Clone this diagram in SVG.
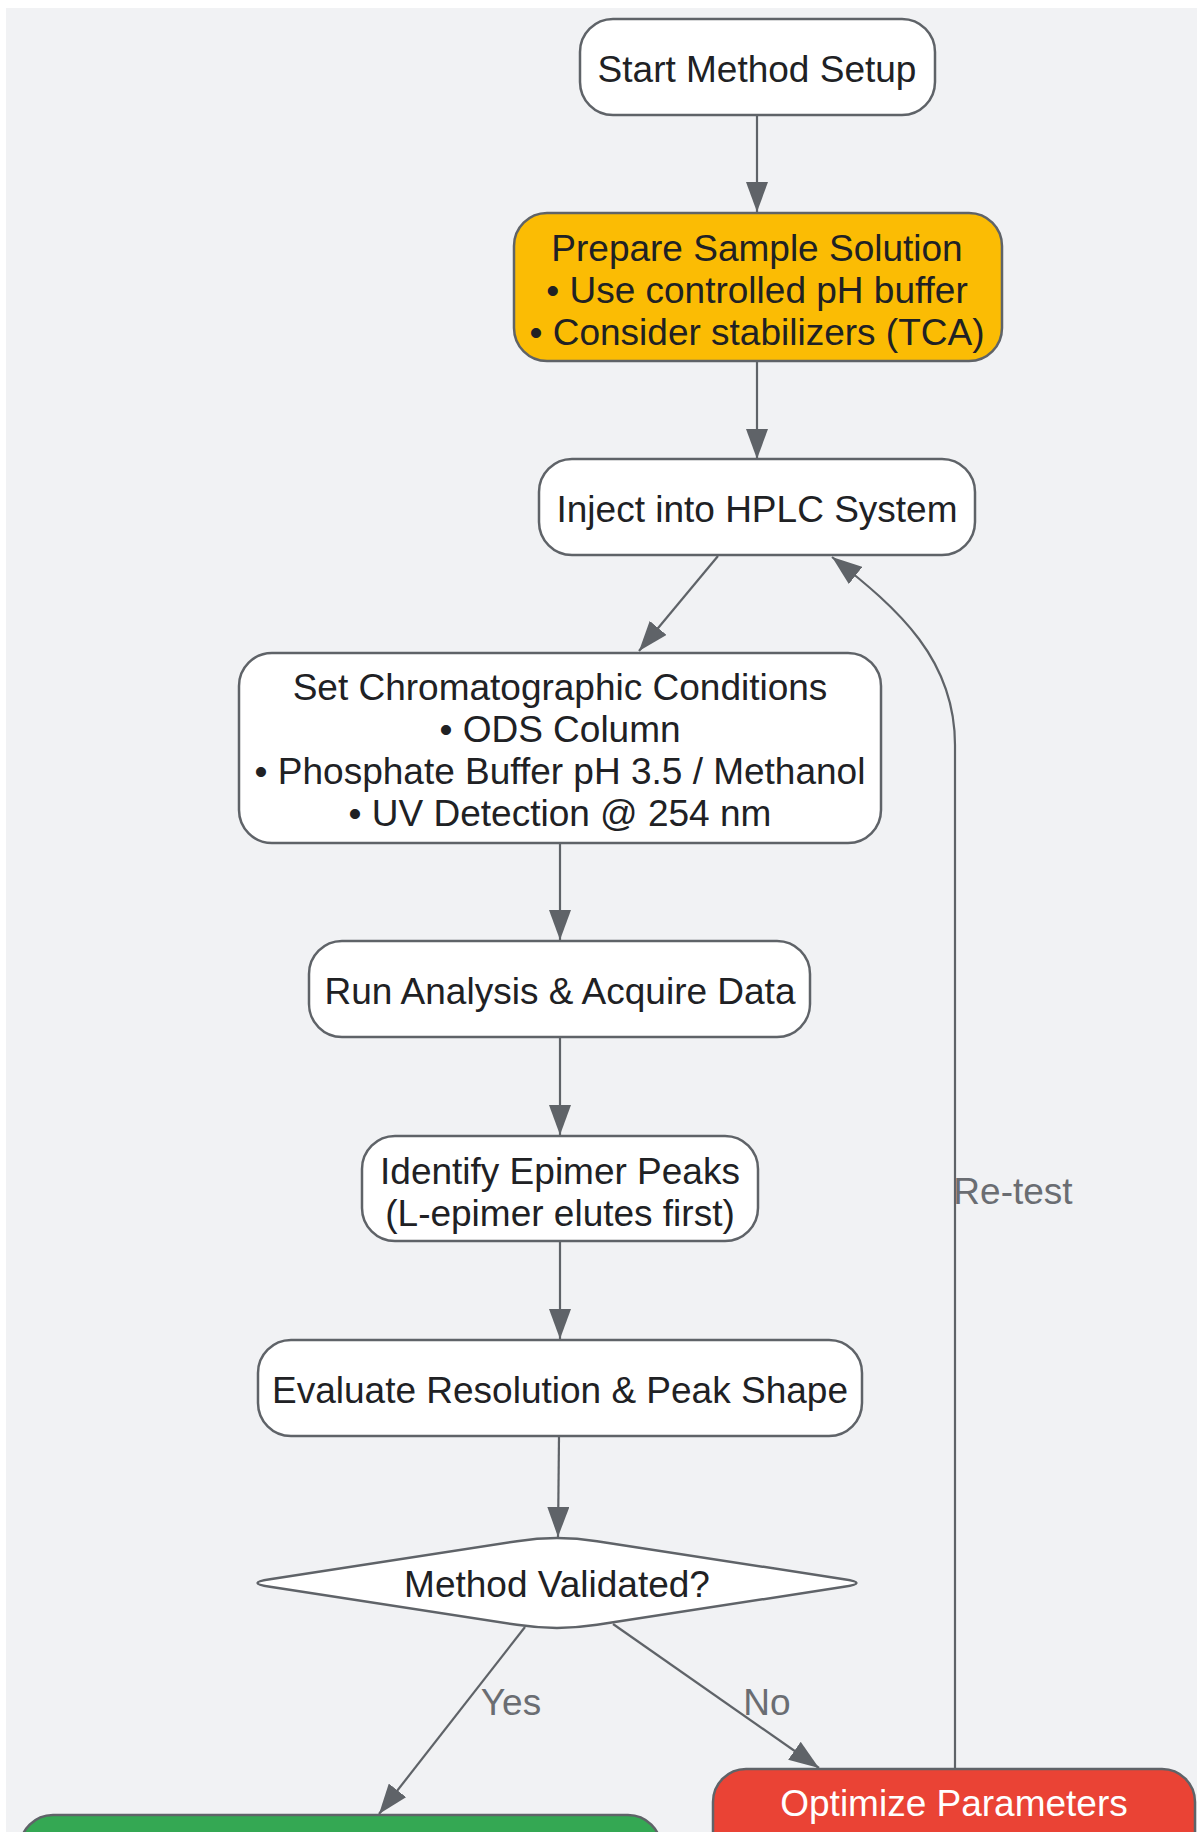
<svg xmlns="http://www.w3.org/2000/svg" width="1197" height="1832" viewBox="0 0 1197 1832">
<style>
.node rect, .node path { stroke: #5f6368; stroke-width: 2.5; }
.w { fill: #ffffff; }
.y { fill: #fbbc04; }
.g { fill: #34a853; }
.r { fill: #ea4335; }
.t { font-family: "Liberation Sans", Arial, sans-serif; font-size: 37px; fill: #202124; text-anchor: middle; }
.tw { fill: #ffffff; }
.edge { fill: none; stroke: #5f6368; stroke-width: 2.2; }
.lbl { font-family: "Liberation Sans", Arial, sans-serif; font-size: 37px; fill: #6a6d72; text-anchor: middle; }
</style>
<defs>
<marker id="arr" viewBox="0 0 30 22" markerWidth="30" markerHeight="22" refX="30" refY="11" orient="auto" markerUnits="userSpaceOnUse">
<path d="M0,0 L30,11 L0,22 Z" fill="#5f6368"/>
</marker>
</defs>
<rect x="0" y="0" width="1197" height="1832" fill="#ffffff"/>
<rect x="6" y="8" width="1191" height="1824" fill="#f1f2f4"/>

<g id="connectors">
<path class="edge" marker-end="url(#arr)" d="M757,115 L757,212"/>
<path class="edge" marker-end="url(#arr)" d="M757,361 L757,459"/>
<path class="edge" marker-end="url(#arr)" d="M718,556 L639,651"/>
<path class="edge" marker-end="url(#arr)" d="M560,843 L560,940"/>
<path class="edge" marker-end="url(#arr)" d="M560,1037 L560,1135"/>
<path class="edge" marker-end="url(#arr)" d="M560,1241 L560,1339"/>
<path class="edge" marker-end="url(#arr)" d="M559,1436 L558,1537"/>
<path class="edge" marker-end="url(#arr)" d="M525,1627 L379,1814"/>
<path class="edge" marker-end="url(#arr)" d="M613,1624 L819,1768"/>
<path class="edge" marker-end="url(#arr)" d="M955,1769 L955,745 C955,660 900,610 832,557"/>
<text class="lbl" x="511" y="1715">Yes</text>
<text class="lbl" x="767" y="1715">No</text>
<text class="lbl" x="1013" y="1204">Re-test</text>
</g>

<g id="start" class="node">
<rect class="w" x="580" y="19" width="355" height="96" rx="33"/>
<text class="t" x="757" y="82">Start Method Setup</text>
</g>

<g id="prepare" class="node">
<rect class="y" x="514" y="213" width="488" height="148" rx="33"/>
<text class="t" x="757" y="261">Prepare Sample Solution</text>
<text class="t" x="757" y="303">• Use controlled pH buffer</text>
<text class="t" x="757" y="345">• Consider stabilizers (TCA)</text>
</g>

<g id="inject" class="node">
<rect class="w" x="539" y="459" width="436" height="96" rx="33"/>
<text class="t" x="757" y="522">Inject into HPLC System</text>
</g>

<g id="conditions" class="node">
<rect class="w" x="239" y="653" width="642" height="190" rx="33"/>
<text class="t" x="560" y="700">Set Chromatographic Conditions</text>
<text class="t" x="560" y="742">• ODS Column</text>
<text class="t" x="560" y="784">• Phosphate Buffer pH 3.5 / Methanol</text>
<text class="t" x="560" y="826">• UV Detection @ 254 nm</text>
</g>

<g id="run" class="node">
<rect class="w" x="309" y="941" width="501" height="96" rx="33"/>
<text class="t" x="560" y="1004">Run Analysis &amp; Acquire Data</text>
</g>

<g id="identify" class="node">
<rect class="w" x="362" y="1136" width="396" height="105" rx="33"/>
<text class="t" x="560" y="1184">Identify Epimer Peaks</text>
<text class="t" x="560" y="1226">(L-epimer elutes first)</text>
</g>

<g id="evaluate" class="node">
<rect class="w" x="258" y="1340" width="604" height="96" rx="33"/>
<text class="t" x="560" y="1403">Evaluate Resolution &amp; Peak Shape</text>
</g>

<g id="decision" class="node">
<path class="w" d="M270,1579.2 L517,1541.2 Q557,1535 597,1541.2 L844,1579.2 Q869,1583 844,1586.8 L597,1624.8 Q557,1631 517,1624.8 L270,1586.8 Q245,1583 270,1579.2 Z"/>
<text class="t" x="557" y="1597">Method Validated?</text>
</g>

<g id="yes" class="node">
<rect class="g" x="20" y="1815" width="641" height="150" rx="33"/>
</g>

<g id="optimize" class="node">
<rect class="r" x="713" y="1769" width="482" height="150" rx="33"/>
<text class="t tw" x="954" y="1816">Optimize Parameters</text>
</g>
</svg>
